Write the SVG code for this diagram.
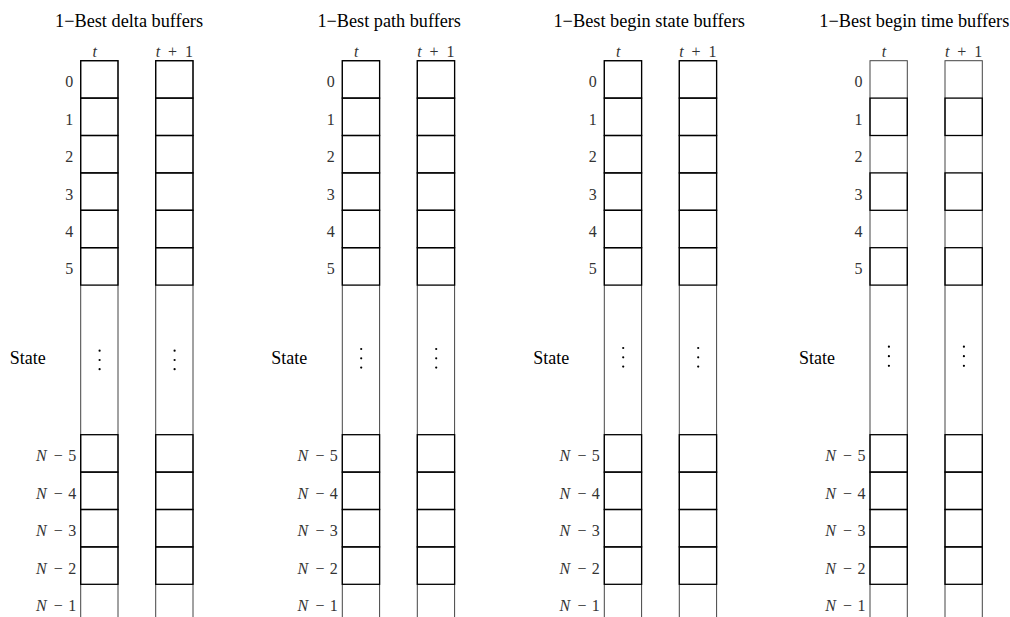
<svg xmlns="http://www.w3.org/2000/svg" width="1010" height="617" viewBox="0 0 1010 617" font-family="'Liberation Serif', 'Times New Roman', serif">
<style>
text{font-family:"Liberation Serif","Times New Roman",serif}
.title{font-size:18px;fill:#000;text-anchor:middle}
.state{font-size:18px;fill:#000;text-anchor:end}
.m{font-size:16px;fill:#333}
.d{text-anchor:end}
.i{font-style:italic}
.col{fill:none;stroke:#444;stroke-width:1}
.cell{fill:none;stroke:#000;stroke-width:1.3}
.dot{fill:#000}
</style>
<rect width="1010" height="617" fill="#fff"/>

<g id="panel-delta" transform="translate(80.7,0)">
<text class="title" font-family="Liberation Serif, serif" x="48.3" y="26.5" textLength="148" lengthAdjust="spacingAndGlyphs">1−Best delta buffers</text>
<text class="m i" font-family="Liberation Serif, serif" x="14" y="57.3" text-anchor="middle">t</text>
<text class="m" font-family="Liberation Serif, serif" y="57.3"><tspan class="i" x="75">t</tspan><tspan x="91.8" text-anchor="middle">+</tspan><tspan x="112.3" text-anchor="end">1</tspan></text>
<text class="m d" font-family="Liberation Serif, serif" x="-7.5" y="87.4">0</text>
<text class="m d" font-family="Liberation Serif, serif" x="-7.5" y="124.8">1</text>
<text class="m d" font-family="Liberation Serif, serif" x="-7.5" y="162.2">2</text>
<text class="m d" font-family="Liberation Serif, serif" x="-7.5" y="199.6">3</text>
<text class="m d" font-family="Liberation Serif, serif" x="-7.5" y="237.0">4</text>
<text class="m d" font-family="Liberation Serif, serif" x="-7.5" y="274.4">5</text>
<text class="state" font-family="Liberation Serif, serif" x="-35" y="364">State</text>
<text class="m" font-family="Liberation Serif, serif" y="461.4"><tspan class="i" x="-44.7">N</tspan><tspan x="-22.4" text-anchor="middle">−</tspan><tspan x="-4.5" text-anchor="end">5</tspan></text>
<text class="m" font-family="Liberation Serif, serif" y="498.8"><tspan class="i" x="-44.7">N</tspan><tspan x="-22.4" text-anchor="middle">−</tspan><tspan x="-4.5" text-anchor="end">4</tspan></text>
<text class="m" font-family="Liberation Serif, serif" y="536.2"><tspan class="i" x="-44.7">N</tspan><tspan x="-22.4" text-anchor="middle">−</tspan><tspan x="-4.5" text-anchor="end">3</tspan></text>
<text class="m" font-family="Liberation Serif, serif" y="573.6"><tspan class="i" x="-44.7">N</tspan><tspan x="-22.4" text-anchor="middle">−</tspan><tspan x="-4.5" text-anchor="end">2</tspan></text>
<text class="m" font-family="Liberation Serif, serif" y="611.0"><tspan class="i" x="-44.7">N</tspan><tspan x="-22.4" text-anchor="middle">−</tspan><tspan x="-4.5" text-anchor="end">1</tspan></text>
<g id="delta-t">
<rect class="col" x="0" y="60.7" width="37.3" height="570"/>
<rect class="cell" x="0" y="60.7" width="37.3" height="37.4"/>
<rect class="cell" x="0" y="98.1" width="37.3" height="37.4"/>
<rect class="cell" x="0" y="135.5" width="37.3" height="37.4"/>
<rect class="cell" x="0" y="172.9" width="37.3" height="37.4"/>
<rect class="cell" x="0" y="210.3" width="37.3" height="37.4"/>
<rect class="cell" x="0" y="247.7" width="37.3" height="37.4"/>
<rect class="cell" x="0" y="434.7" width="37.3" height="37.4"/>
<rect class="cell" x="0" y="472.1" width="37.3" height="37.4"/>
<rect class="cell" x="0" y="509.5" width="37.3" height="37.4"/>
<rect class="cell" x="0" y="546.9" width="37.3" height="37.4"/>
<circle class="dot" cx="18.9" cy="350.7" r="1.1"/><circle class="dot" cx="18.9" cy="360" r="1.1"/><circle class="dot" cx="18.9" cy="369.2" r="1.1"/>
</g>
<g id="delta-t1" transform="translate(75,0)">
<rect class="col" x="0" y="60.7" width="37.3" height="570"/>
<rect class="cell" x="0" y="60.7" width="37.3" height="37.4"/>
<rect class="cell" x="0" y="98.1" width="37.3" height="37.4"/>
<rect class="cell" x="0" y="135.5" width="37.3" height="37.4"/>
<rect class="cell" x="0" y="172.9" width="37.3" height="37.4"/>
<rect class="cell" x="0" y="210.3" width="37.3" height="37.4"/>
<rect class="cell" x="0" y="247.7" width="37.3" height="37.4"/>
<rect class="cell" x="0" y="434.7" width="37.3" height="37.4"/>
<rect class="cell" x="0" y="472.1" width="37.3" height="37.4"/>
<rect class="cell" x="0" y="509.5" width="37.3" height="37.4"/>
<rect class="cell" x="0" y="546.9" width="37.3" height="37.4"/>
<circle class="dot" cx="18.9" cy="350.7" r="1.1"/><circle class="dot" cx="18.9" cy="360" r="1.1"/><circle class="dot" cx="18.9" cy="369.2" r="1.1"/>
</g>
</g>

<g id="panel-path" transform="translate(342.3,0)">
<text class="title" font-family="Liberation Serif, serif" x="46.9" y="26.5" textLength="143.5" lengthAdjust="spacingAndGlyphs">1−Best path buffers</text>
<text class="m i" font-family="Liberation Serif, serif" x="14" y="57.3" text-anchor="middle">t</text>
<text class="m" font-family="Liberation Serif, serif" y="57.3"><tspan class="i" x="75">t</tspan><tspan x="91.8" text-anchor="middle">+</tspan><tspan x="112.3" text-anchor="end">1</tspan></text>
<text class="m d" font-family="Liberation Serif, serif" x="-7.5" y="87.4">0</text>
<text class="m d" font-family="Liberation Serif, serif" x="-7.5" y="124.8">1</text>
<text class="m d" font-family="Liberation Serif, serif" x="-7.5" y="162.2">2</text>
<text class="m d" font-family="Liberation Serif, serif" x="-7.5" y="199.6">3</text>
<text class="m d" font-family="Liberation Serif, serif" x="-7.5" y="237.0">4</text>
<text class="m d" font-family="Liberation Serif, serif" x="-7.5" y="274.4">5</text>
<text class="state" font-family="Liberation Serif, serif" x="-35" y="364">State</text>
<text class="m" font-family="Liberation Serif, serif" y="461.4"><tspan class="i" x="-44.7">N</tspan><tspan x="-22.4" text-anchor="middle">−</tspan><tspan x="-4.5" text-anchor="end">5</tspan></text>
<text class="m" font-family="Liberation Serif, serif" y="498.8"><tspan class="i" x="-44.7">N</tspan><tspan x="-22.4" text-anchor="middle">−</tspan><tspan x="-4.5" text-anchor="end">4</tspan></text>
<text class="m" font-family="Liberation Serif, serif" y="536.2"><tspan class="i" x="-44.7">N</tspan><tspan x="-22.4" text-anchor="middle">−</tspan><tspan x="-4.5" text-anchor="end">3</tspan></text>
<text class="m" font-family="Liberation Serif, serif" y="573.6"><tspan class="i" x="-44.7">N</tspan><tspan x="-22.4" text-anchor="middle">−</tspan><tspan x="-4.5" text-anchor="end">2</tspan></text>
<text class="m" font-family="Liberation Serif, serif" y="611.0"><tspan class="i" x="-44.7">N</tspan><tspan x="-22.4" text-anchor="middle">−</tspan><tspan x="-4.5" text-anchor="end">1</tspan></text>
<g id="path-t">
<rect class="col" x="0" y="60.7" width="37.3" height="570"/>
<rect class="cell" x="0" y="60.7" width="37.3" height="37.4"/>
<rect class="cell" x="0" y="98.1" width="37.3" height="37.4"/>
<rect class="cell" x="0" y="135.5" width="37.3" height="37.4"/>
<rect class="cell" x="0" y="172.9" width="37.3" height="37.4"/>
<rect class="cell" x="0" y="210.3" width="37.3" height="37.4"/>
<rect class="cell" x="0" y="247.7" width="37.3" height="37.4"/>
<rect class="cell" x="0" y="434.7" width="37.3" height="37.4"/>
<rect class="cell" x="0" y="472.1" width="37.3" height="37.4"/>
<rect class="cell" x="0" y="509.5" width="37.3" height="37.4"/>
<rect class="cell" x="0" y="546.9" width="37.3" height="37.4"/>
<circle class="dot" cx="18.9" cy="349" r="1.1"/><circle class="dot" cx="18.9" cy="358.3" r="1.1"/><circle class="dot" cx="18.9" cy="367.6" r="1.1"/>
</g>
<g id="path-t1" transform="translate(75,0)">
<rect class="col" x="0" y="60.7" width="37.3" height="570"/>
<rect class="cell" x="0" y="60.7" width="37.3" height="37.4"/>
<rect class="cell" x="0" y="98.1" width="37.3" height="37.4"/>
<rect class="cell" x="0" y="135.5" width="37.3" height="37.4"/>
<rect class="cell" x="0" y="172.9" width="37.3" height="37.4"/>
<rect class="cell" x="0" y="210.3" width="37.3" height="37.4"/>
<rect class="cell" x="0" y="247.7" width="37.3" height="37.4"/>
<rect class="cell" x="0" y="434.7" width="37.3" height="37.4"/>
<rect class="cell" x="0" y="472.1" width="37.3" height="37.4"/>
<rect class="cell" x="0" y="509.5" width="37.3" height="37.4"/>
<rect class="cell" x="0" y="546.9" width="37.3" height="37.4"/>
<circle class="dot" cx="18.9" cy="349" r="1.1"/><circle class="dot" cx="18.9" cy="358.3" r="1.1"/><circle class="dot" cx="18.9" cy="367.6" r="1.1"/>
</g>
</g>

<g id="panel-state" transform="translate(604.3,0)">
<text class="title" font-family="Liberation Serif, serif" x="44.9" y="26.5" textLength="191.5" lengthAdjust="spacingAndGlyphs">1−Best begin state buffers</text>
<text class="m i" font-family="Liberation Serif, serif" x="14" y="57.3" text-anchor="middle">t</text>
<text class="m" font-family="Liberation Serif, serif" y="57.3"><tspan class="i" x="75">t</tspan><tspan x="91.8" text-anchor="middle">+</tspan><tspan x="112.3" text-anchor="end">1</tspan></text>
<text class="m d" font-family="Liberation Serif, serif" x="-7.5" y="87.4">0</text>
<text class="m d" font-family="Liberation Serif, serif" x="-7.5" y="124.8">1</text>
<text class="m d" font-family="Liberation Serif, serif" x="-7.5" y="162.2">2</text>
<text class="m d" font-family="Liberation Serif, serif" x="-7.5" y="199.6">3</text>
<text class="m d" font-family="Liberation Serif, serif" x="-7.5" y="237.0">4</text>
<text class="m d" font-family="Liberation Serif, serif" x="-7.5" y="274.4">5</text>
<text class="state" font-family="Liberation Serif, serif" x="-35" y="364">State</text>
<text class="m" font-family="Liberation Serif, serif" y="461.4"><tspan class="i" x="-44.7">N</tspan><tspan x="-22.4" text-anchor="middle">−</tspan><tspan x="-4.5" text-anchor="end">5</tspan></text>
<text class="m" font-family="Liberation Serif, serif" y="498.8"><tspan class="i" x="-44.7">N</tspan><tspan x="-22.4" text-anchor="middle">−</tspan><tspan x="-4.5" text-anchor="end">4</tspan></text>
<text class="m" font-family="Liberation Serif, serif" y="536.2"><tspan class="i" x="-44.7">N</tspan><tspan x="-22.4" text-anchor="middle">−</tspan><tspan x="-4.5" text-anchor="end">3</tspan></text>
<text class="m" font-family="Liberation Serif, serif" y="573.6"><tspan class="i" x="-44.7">N</tspan><tspan x="-22.4" text-anchor="middle">−</tspan><tspan x="-4.5" text-anchor="end">2</tspan></text>
<text class="m" font-family="Liberation Serif, serif" y="611.0"><tspan class="i" x="-44.7">N</tspan><tspan x="-22.4" text-anchor="middle">−</tspan><tspan x="-4.5" text-anchor="end">1</tspan></text>
<g id="state-t">
<rect class="col" x="0" y="60.7" width="37.3" height="570"/>
<rect class="cell" x="0" y="60.7" width="37.3" height="37.4"/>
<rect class="cell" x="0" y="98.1" width="37.3" height="37.4"/>
<rect class="cell" x="0" y="135.5" width="37.3" height="37.4"/>
<rect class="cell" x="0" y="172.9" width="37.3" height="37.4"/>
<rect class="cell" x="0" y="210.3" width="37.3" height="37.4"/>
<rect class="cell" x="0" y="247.7" width="37.3" height="37.4"/>
<rect class="cell" x="0" y="434.7" width="37.3" height="37.4"/>
<rect class="cell" x="0" y="472.1" width="37.3" height="37.4"/>
<rect class="cell" x="0" y="509.5" width="37.3" height="37.4"/>
<rect class="cell" x="0" y="546.9" width="37.3" height="37.4"/>
<circle class="dot" cx="18.9" cy="348" r="1.1"/><circle class="dot" cx="18.9" cy="357.3" r="1.1"/><circle class="dot" cx="18.9" cy="366.6" r="1.1"/>
</g>
<g id="state-t1" transform="translate(75,0)">
<rect class="col" x="0" y="60.7" width="37.3" height="570"/>
<rect class="cell" x="0" y="60.7" width="37.3" height="37.4"/>
<rect class="cell" x="0" y="98.1" width="37.3" height="37.4"/>
<rect class="cell" x="0" y="135.5" width="37.3" height="37.4"/>
<rect class="cell" x="0" y="172.9" width="37.3" height="37.4"/>
<rect class="cell" x="0" y="210.3" width="37.3" height="37.4"/>
<rect class="cell" x="0" y="247.7" width="37.3" height="37.4"/>
<rect class="cell" x="0" y="434.7" width="37.3" height="37.4"/>
<rect class="cell" x="0" y="472.1" width="37.3" height="37.4"/>
<rect class="cell" x="0" y="509.5" width="37.3" height="37.4"/>
<rect class="cell" x="0" y="546.9" width="37.3" height="37.4"/>
<circle class="dot" cx="18.9" cy="348" r="1.1"/><circle class="dot" cx="18.9" cy="357.3" r="1.1"/><circle class="dot" cx="18.9" cy="366.6" r="1.1"/>
</g>
</g>

<g id="panel-time" transform="translate(870,0)">
<text class="title" font-family="Liberation Serif, serif" x="44.3" y="26.5" textLength="190" lengthAdjust="spacingAndGlyphs">1−Best begin time buffers</text>
<text class="m i" font-family="Liberation Serif, serif" x="14" y="57.3" text-anchor="middle">t</text>
<text class="m" font-family="Liberation Serif, serif" y="57.3"><tspan class="i" x="75">t</tspan><tspan x="91.8" text-anchor="middle">+</tspan><tspan x="112.3" text-anchor="end">1</tspan></text>
<text class="m d" font-family="Liberation Serif, serif" x="-7.5" y="87.4">0</text>
<text class="m d" font-family="Liberation Serif, serif" x="-7.5" y="124.8">1</text>
<text class="m d" font-family="Liberation Serif, serif" x="-7.5" y="162.2">2</text>
<text class="m d" font-family="Liberation Serif, serif" x="-7.5" y="199.6">3</text>
<text class="m d" font-family="Liberation Serif, serif" x="-7.5" y="237.0">4</text>
<text class="m d" font-family="Liberation Serif, serif" x="-7.5" y="274.4">5</text>
<text class="state" font-family="Liberation Serif, serif" x="-35" y="364">State</text>
<text class="m" font-family="Liberation Serif, serif" y="461.4"><tspan class="i" x="-44.7">N</tspan><tspan x="-22.4" text-anchor="middle">−</tspan><tspan x="-4.5" text-anchor="end">5</tspan></text>
<text class="m" font-family="Liberation Serif, serif" y="498.8"><tspan class="i" x="-44.7">N</tspan><tspan x="-22.4" text-anchor="middle">−</tspan><tspan x="-4.5" text-anchor="end">4</tspan></text>
<text class="m" font-family="Liberation Serif, serif" y="536.2"><tspan class="i" x="-44.7">N</tspan><tspan x="-22.4" text-anchor="middle">−</tspan><tspan x="-4.5" text-anchor="end">3</tspan></text>
<text class="m" font-family="Liberation Serif, serif" y="573.6"><tspan class="i" x="-44.7">N</tspan><tspan x="-22.4" text-anchor="middle">−</tspan><tspan x="-4.5" text-anchor="end">2</tspan></text>
<text class="m" font-family="Liberation Serif, serif" y="611.0"><tspan class="i" x="-44.7">N</tspan><tspan x="-22.4" text-anchor="middle">−</tspan><tspan x="-4.5" text-anchor="end">1</tspan></text>
<g id="time-t">
<rect class="col" x="0" y="60.7" width="37.3" height="570"/>
<rect class="cell" x="0" y="98.1" width="37.3" height="37.4"/>
<rect class="cell" x="0" y="172.9" width="37.3" height="37.4"/>
<rect class="cell" x="0" y="247.7" width="37.3" height="37.4"/>
<rect class="cell" x="0" y="434.7" width="37.3" height="37.4"/>
<rect class="cell" x="0" y="472.1" width="37.3" height="37.4"/>
<rect class="cell" x="0" y="509.5" width="37.3" height="37.4"/>
<rect class="cell" x="0" y="546.9" width="37.3" height="37.4"/>
<circle class="dot" cx="18.9" cy="346.7" r="1.1"/><circle class="dot" cx="18.9" cy="356.2" r="1.1"/><circle class="dot" cx="18.9" cy="365.8" r="1.1"/>
</g>
<g id="time-t1" transform="translate(75,0)">
<rect class="col" x="0" y="60.7" width="37.3" height="570"/>
<rect class="cell" x="0" y="98.1" width="37.3" height="37.4"/>
<rect class="cell" x="0" y="172.9" width="37.3" height="37.4"/>
<rect class="cell" x="0" y="247.7" width="37.3" height="37.4"/>
<rect class="cell" x="0" y="434.7" width="37.3" height="37.4"/>
<rect class="cell" x="0" y="472.1" width="37.3" height="37.4"/>
<rect class="cell" x="0" y="509.5" width="37.3" height="37.4"/>
<rect class="cell" x="0" y="546.9" width="37.3" height="37.4"/>
<circle class="dot" cx="18.9" cy="346.7" r="1.1"/><circle class="dot" cx="18.9" cy="356.2" r="1.1"/><circle class="dot" cx="18.9" cy="365.8" r="1.1"/>
</g>
</g>

<g id="connectors"/>
</svg>
